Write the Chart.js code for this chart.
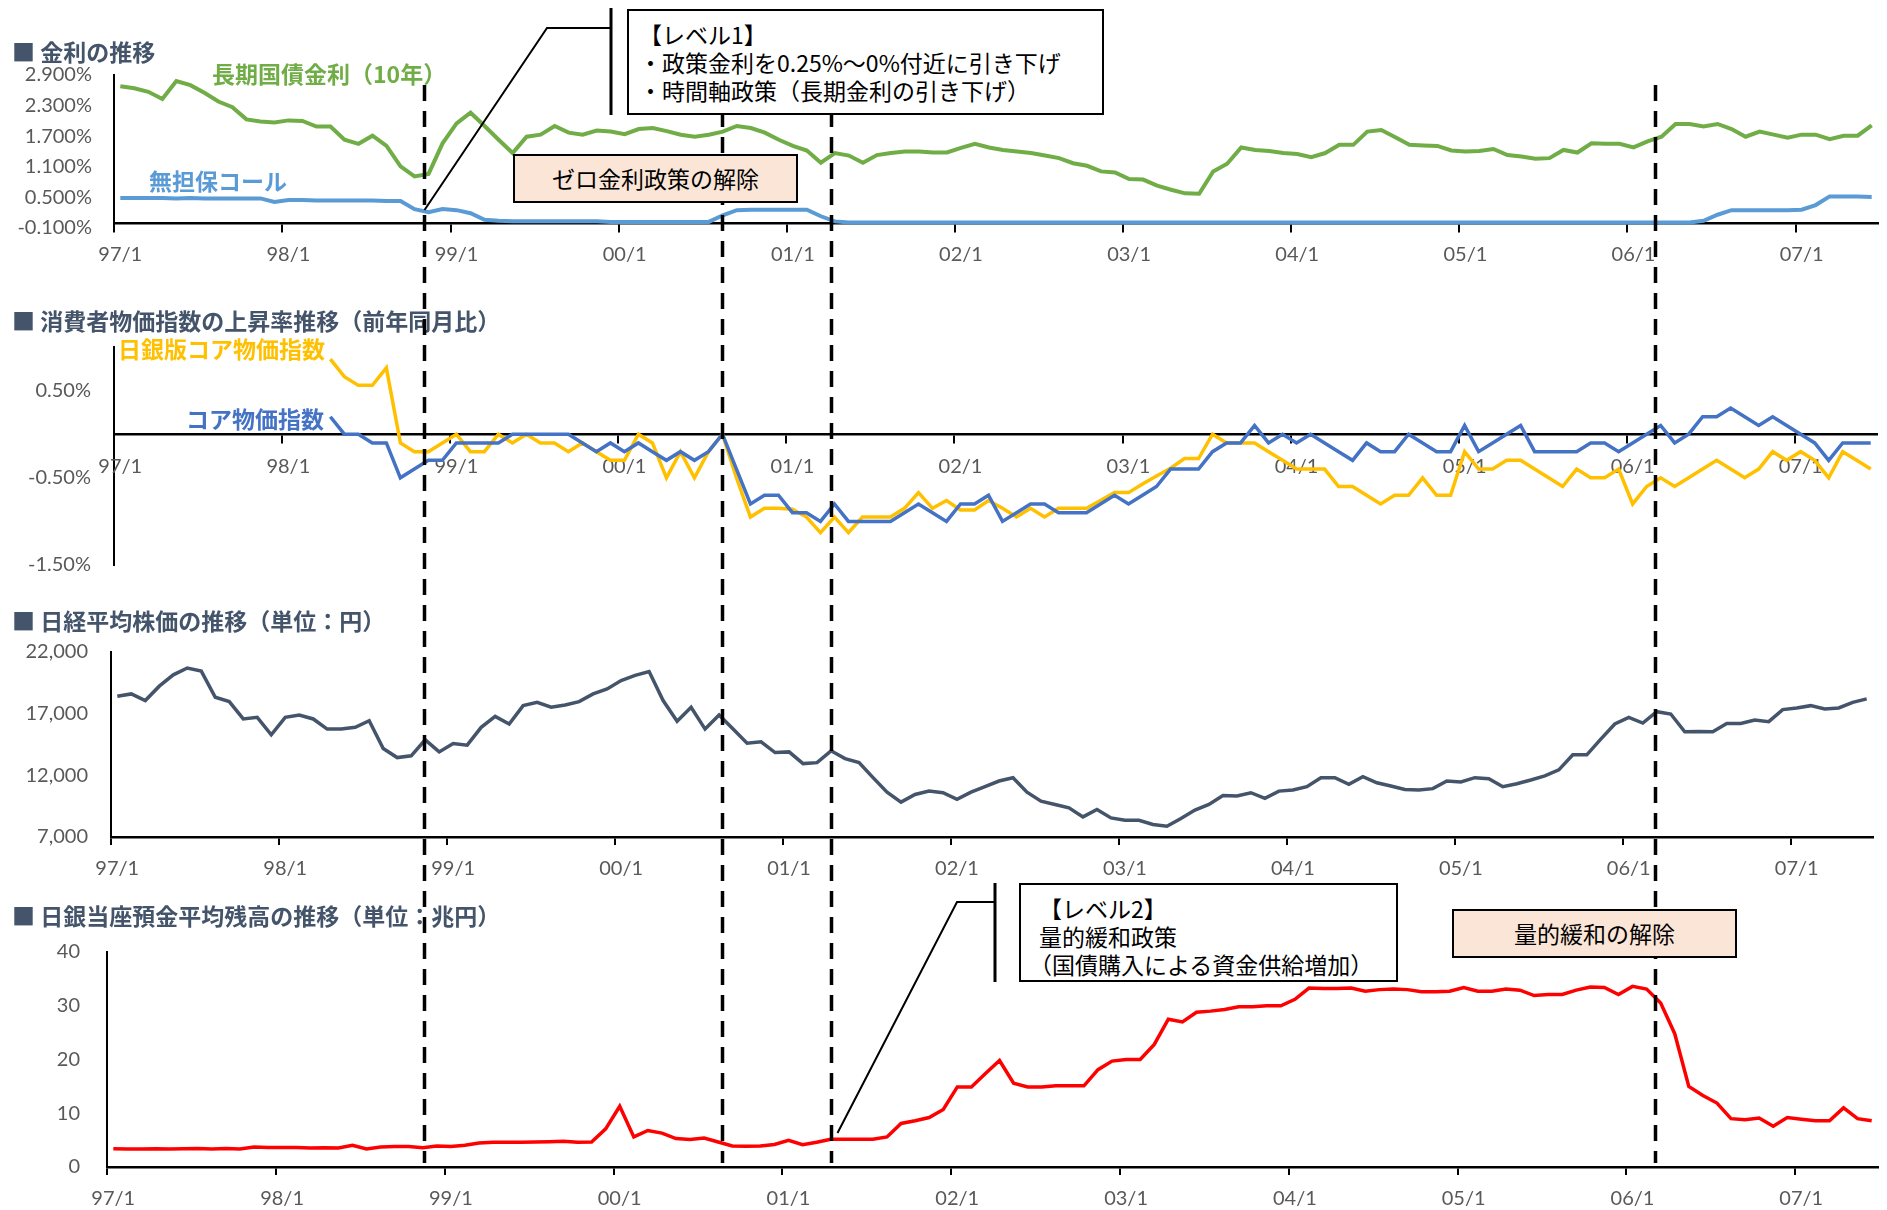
<!DOCTYPE html>
<html lang="ja">
<head>
<meta charset="utf-8">
<title>金利・物価・株価・当座預金の推移</title>
<script src="https://cdn.jsdelivr.net/npm/chart.js@4.4.1/dist/chart.umd.min.js"></script>
<style>
  body { margin: 0; background: #fff; }
  #wrap { position: relative; width: 1887px; height: 1210px; overflow: hidden; font-family: "Noto Sans CJK JP", "Noto Sans", sans-serif; }
  #wrap canvas { position: absolute; left: 0; }
  .title { position: absolute; left: 12px; font-size: 23px; font-weight: bold; color: #44546A; line-height: 1; white-space: nowrap; }
  .tag { position: absolute; font-size: 23px; font-weight: bold; line-height: 1; white-space: nowrap; }
  .note { position: absolute; box-sizing: border-box; border: 2px solid #000; background: #fff; font-size: 23px; color: #000; line-height: 28px; white-space: nowrap; }
  .peach { background: #FBE5D6; text-align: center; line-height: 45px; }
</style>
</head>
<body>
<div id="wrap">
  <canvas id="c1" width="1887" height="300" style="top:0"></canvas>
  <canvas id="c2" width="1887" height="300" style="top:300px"></canvas>
  <canvas id="c3" width="1887" height="300" style="top:600px"></canvas>
  <canvas id="c4" width="1887" height="310" style="top:900px"></canvas>

  <div class="title" style="top:40px">■ 金利の推移</div>
  <div class="title" style="top:309px">■ 消費者物価指数の上昇率推移（前年同月比）</div>
  <div class="title" style="top:609px">■ 日経平均株価の推移（単位：円）</div>
  <div class="title" style="top:904px">■ 日銀当座預金平均残高の推移（単位：兆円）</div>

  <div class="tag" style="left:212px;top:62px;color:#70AD47">長期国債金利（10年）</div>
  <div class="tag" style="left:149px;top:169px;color:#5B9BD5">無担保コール</div>
  <div class="tag" style="left:118px;top:337px;color:#FFC000">日銀版コア物価指数</div>
  <div class="tag" style="left:186px;top:407px;color:#4472C4">コア物価指数</div>

  <canvas id="overlay" width="1887" height="1210" style="top:0"></canvas>

  <div class="note" style="left:627px;top:9px;width:477px;height:106px;padding:9px 0 0 10px">【レベル1】<br>・政策金利を0.25%～0%付近に引き下げ<br>・時間軸政策（長期金利の引き下げ）</div>
  <div class="note peach" style="left:513px;top:154px;width:285px;height:49px">ゼロ金利政策の解除</div>
  <div class="note" style="left:1019px;top:883px;width:379px;height:99px;padding:9px 0 0 18px">【レベル2】<br>量的緩和政策<br><span style="margin-left:-10px">（国債購入による資金供給増加）</span></div>
  <div class="note peach" style="left:1452px;top:909px;width:285px;height:49px">量的緩和の解除</div>
</div>
<script>
// monthly data, 97/1 .. 07/6
const xTickLabels = ['97/1', '98/1', '99/1', '00/1', '01/1', '02/1', '03/1', '04/1', '05/1', '06/1', '07/1'];

const jgb10y = [
  2.68, 2.64, 2.57, 2.43, 2.78, 2.70, 2.55, 2.38, 2.27, 2.03, 1.99, 1.97,
  2.01, 2.00, 1.89, 1.89, 1.63, 1.55, 1.71, 1.51, 1.11, 0.91, 0.96, 1.56,
  1.95, 2.16, 1.90, 1.63, 1.37, 1.69, 1.73, 1.90, 1.77, 1.73, 1.81, 1.79,
  1.74, 1.84, 1.86, 1.80, 1.73, 1.69, 1.73, 1.79, 1.90, 1.86, 1.77, 1.63,
  1.51, 1.42, 1.18, 1.37, 1.32, 1.18, 1.33, 1.37, 1.40, 1.40, 1.38, 1.38,
  1.47, 1.55, 1.48, 1.43, 1.40, 1.37, 1.32, 1.27, 1.17, 1.12, 1.01, 0.99,
  0.86, 0.85, 0.73, 0.65, 0.58, 0.57, 1.01, 1.16, 1.48, 1.43, 1.41, 1.37,
  1.35, 1.29, 1.37, 1.53, 1.53, 1.79, 1.82, 1.68, 1.53, 1.52, 1.51, 1.42,
  1.40, 1.41, 1.45, 1.33, 1.30, 1.26, 1.27, 1.43, 1.38, 1.56, 1.55, 1.55,
  1.48, 1.60, 1.69, 1.94, 1.94, 1.89, 1.94, 1.84, 1.69, 1.79, 1.73, 1.67,
  1.73, 1.73, 1.64, 1.71, 1.71, 1.91
];
const callRate = [
  0.49, 0.49, 0.49, 0.49, 0.48, 0.49, 0.48, 0.48, 0.48, 0.48, 0.48, 0.41,
  0.45, 0.45, 0.44, 0.44, 0.44, 0.44, 0.44, 0.43, 0.43, 0.27, 0.21, 0.27,
  0.25, 0.19, 0.06, 0.04, 0.03, 0.03, 0.03, 0.03, 0.03, 0.03, 0.03, 0.02,
  0.02, 0.02, 0.02, 0.02, 0.02, 0.02, 0.02, 0.15, 0.25, 0.26, 0.26, 0.26,
  0.26, 0.26, 0.13, 0.03, 0.01, 0.01, 0.01, 0.01, 0.01, 0.01, 0.01, 0.01,
  0.01, 0.01, 0.01, 0.01, 0.01, 0.01, 0.01, 0.01, 0.01, 0.01, 0.01, 0.01,
  0.01, 0.01, 0.01, 0.01, 0.01, 0.01, 0.01, 0.01, 0.01, 0.01, 0.01, 0.01,
  0.01, 0.01, 0.01, 0.01, 0.01, 0.01, 0.01, 0.01, 0.01, 0.01, 0.01, 0.01,
  0.01, 0.01, 0.01, 0.01, 0.01, 0.01, 0.01, 0.01, 0.01, 0.01, 0.01, 0.01,
  0.01, 0.01, 0.01, 0.01, 0.01, 0.04, 0.16, 0.25, 0.25, 0.25, 0.25, 0.25,
  0.26, 0.35, 0.52, 0.52, 0.52, 0.51
];
const coreCpi = [
  null, null, null, null, null, null, null, null, null, null, null, null,
  null, null, null, 0.2, 0, 0, -0.1, -0.1, -0.5, -0.4, -0.3, -0.3,
  -0.1, -0.1, -0.1, -0.1, 0, 0, 0, 0, 0, -0.1, -0.2, -0.1,
  -0.2, -0.1, -0.2, -0.3, -0.2, -0.3, -0.2, 0, -0.4, -0.8, -0.7, -0.7,
  -0.9, -0.9, -1.0, -0.8, -1.0, -1.0, -1.0, -1.0, -0.9, -0.8, -0.9, -1.0,
  -0.8, -0.8, -0.7, -1.0, -0.9, -0.8, -0.8, -0.9, -0.9, -0.9, -0.8, -0.7,
  -0.8, -0.7, -0.6, -0.4, -0.4, -0.4, -0.2, -0.1, -0.1, 0.1, -0.1, 0,
  -0.1, 0, -0.1, -0.2, -0.3, -0.1, -0.2, -0.2, 0, -0.1, -0.2, -0.2,
  0.1, -0.2, -0.1, 0, 0.1, -0.2, -0.2, -0.2, -0.2, -0.1, -0.1, -0.2,
  -0.1, 0, 0.1, -0.1, 0, 0.2, 0.2, 0.3, 0.2, 0.1, 0.2, 0.1,
  0, -0.1, -0.3, -0.1, -0.1, -0.1
];
const bojCoreCpi = [
  null, null, null, null, null, null, null, null, null, null, null, null,
  null, null, null, 0.86, 0.66, 0.56, 0.56, 0.76, -0.1, -0.2, -0.2, -0.1,
  0, -0.2, -0.2, 0, -0.1, 0, -0.1, -0.1, -0.2, -0.1, -0.2, -0.3,
  -0.3, 0, -0.1, -0.5, -0.2, -0.5, -0.2, 0, -0.5, -0.95, -0.85, -0.85,
  -0.86, -0.95, -1.13, -0.95, -1.13, -0.95, -0.95, -0.95, -0.85, -0.67, -0.85, -0.76,
  -0.87, -0.87, -0.76, -0.85, -0.95, -0.85, -0.95, -0.85, -0.85, -0.85, -0.76, -0.67,
  -0.67, -0.57, -0.48, -0.39, -0.28, -0.28, 0, -0.1, -0.1, -0.1, -0.2, -0.3,
  -0.4, -0.4, -0.4, -0.6, -0.6, -0.7, -0.8, -0.7, -0.7, -0.5, -0.7, -0.7,
  -0.2, -0.4, -0.4, -0.3, -0.3, -0.4, -0.5, -0.6, -0.4, -0.5, -0.5, -0.4,
  -0.8, -0.6, -0.5, -0.6, -0.5, -0.4, -0.3, -0.4, -0.5, -0.4, -0.2, -0.3,
  -0.2, -0.3, -0.5, -0.2, -0.3, -0.4
];
const nikkei = [
  18410, 18600, 18060, 19230, 20150, 20700, 20450, 18330, 17980, 16570, 16700, 15290,
  16700, 16890, 16570, 15750, 15750, 15890, 16430, 14180, 13440, 13580, 14880, 13900,
  14580, 14450, 15890, 16780, 16160, 17650, 17920, 17520, 17710, 17980, 18600, 19010,
  19690, 20100, 20420, 18060, 16380, 17520, 15750, 16890, 15750, 14610, 14720, 13850,
  13900, 12950, 13030, 13990, 13360, 13030, 11810, 10640, 9830, 10450, 10720, 10590,
  10050, 10640, 11080, 11540, 11810, 10640, 9910, 9640, 9370, 8630, 9230, 8550,
  8360, 8360, 8010, 7870, 8500, 9180, 9640, 10370, 10320, 10590, 10130, 10720,
  10810, 11080, 11810, 11810, 11270, 11890, 11400, 11130, 10860, 10810, 10920, 11540,
  11460, 11810, 11730, 11080, 11320, 11620, 11950, 12440, 13660, 13660, 14940, 16160,
  16700, 16240, 17160, 16970, 15530, 15560, 15530, 16210, 16210, 16490, 16350, 17330,
  17460, 17650, 17380, 17460, 17920, 18200
];
const bojBalance = [
  3.4, 3.35, 3.35, 3.4, 3.35, 3.4, 3.45, 3.35, 3.45, 3.35, 3.7, 3.65,
  3.65, 3.65, 3.55, 3.6, 3.55, 4.05, 3.35, 3.7, 3.8, 3.8, 3.6, 3.9,
  3.8, 4.05, 4.45, 4.6, 4.6, 4.6, 4.65, 4.7, 4.8, 4.6, 4.65, 7.1,
  11.3, 5.6, 6.8, 6.3, 5.3, 5.1, 5.4, 4.65, 3.9, 3.85, 3.9, 4.2,
  4.95, 4.15, 4.6, 5.15, 5.15, 5.15, 5.15, 5.6, 8.1, 8.6, 9.2, 10.7,
  14.9, 14.9, 17.4, 19.8, 15.6, 14.9, 14.9, 15.1, 15.1, 15.1, 18.1, 19.7,
  20.0, 20.0, 22.8, 27.5, 27.0, 28.8, 29.0, 29.3, 29.8, 29.8, 30.0, 30.0,
  31.2, 33.3, 33.2, 33.2, 33.3, 32.7, 33.0, 33.1, 33.0, 32.6, 32.6, 32.7,
  33.4, 32.7, 32.7, 33.1, 32.9, 31.9, 32.1, 32.1, 32.9, 33.5, 33.4, 32.1,
  33.6, 33.1, 30.5, 24.8, 15.0, 13.3, 11.9, 9.0, 8.8, 9.1, 7.6, 9.2,
  8.9, 8.6, 8.6, 11.0, 9.0, 8.6
];

const rateTicks = [-0.1, 0.5, 1.1, 1.7, 2.3, 2.9];
const cpiTicks = [-1.5, -0.5, 0.5];
const nikkeiTicks = [7000, 12000, 17000, 22000];
const balanceTicks = [0, 10, 20, 30, 40];

// policy changes, in months from 97/1
const policyMonths = [21.7, 42.95, 50.7, 109.55];

const toPoints = vals => vals.map((v, i) => ({x: i, y: v}));

function panel(id, cfg) {
    const ctx = document.getElementById(id);
    const tickFont = {family: 'Lato', size: 20};
    return new Chart(ctx, {
        type: 'line',
        data: {
            datasets: cfg.series.map(s => ({
                data: toPoints(s.data),
                borderColor: s.color,
                borderWidth: s.width,
                pointRadius: 0,
                tension: 0,
                fill: false
            }))
        },
        options: {
            responsive: false,
            animation: false,
            events: [],
            layout: {padding: {top: cfg.top, bottom: cfg.bottom, left: 0, right: cfg.right}},
            plugins: {legend: {display: false}, tooltip: {enabled: false}},
            scales: {
                y: {
                    min: cfg.min, max: cfg.max,
                    afterBuildTicks: s => { s.ticks = cfg.ticks.map(v => ({value: v})); },
                    afterFit: s => { s.width = cfg.left; },
                    grid: {display: false, drawTicks: false},
                    border: {display: true, color: '#000', width: 2},
                    ticks: {padding: cfg.pad, color: '#595959', font: tickFont, callback: cfg.fmt}
                },
                x: {
                    type: 'linear', min: -0.45, max: 125.45,
                    position: cfg.xAtZero ? {y: 0} : 'bottom',
                    afterBuildTicks: s => { s.ticks = xTickLabels.map((_, k) => ({value: 12 * k - 0.43})); },
                    afterFit: s => { if (!cfg.xAtZero) s.height = cfg.xHeight; },
                    grid: {drawOnChartArea: false, drawTicks: true, tickLength: 8, color: '#000', lineWidth: 2},
                    border: {display: true, color: '#000', width: 2.5},
                    ticks: {
                        autoSkip: false, maxRotation: 0, padding: 12, labelOffset: 6,
                        color: '#595959', font: tickFont,
                        callback: (v, i) => xTickLabels[i]
                    }
                }
            }
        }
    });
}

const rateChart = panel('c1', {
    series: [{data: jgb10y, color: '#70AD47', width: 4}, {data: callRate, color: '#5B9BD5', width: 4}],
    min: -0.1, max: 2.9, ticks: rateTicks, fmt: v => v.toFixed(3) + '%',
    top: 75, bottom: 72, right: 9, left: 114, pad: 22, xAtZero: true
});
panel('c2', {
    series: [{data: coreCpi, color: '#4472C4', width: 3.5}, {data: bojCoreCpi, color: '#FFC000', width: 3.5}],
    min: -1.5, max: 1.0, ticks: cpiTicks, fmt: v => v.toFixed(2) + '%',
    top: 47, bottom: 25, right: 10, left: 114, pad: 23, xAtZero: true
});
panel('c3', {
    series: [{data: nikkei, color: '#44546A', width: 3.5}],
    min: 7000, max: 22000, ticks: nikkeiTicks, fmt: v => v.toLocaleString('en-US'),
    top: 52, bottom: 0, right: 14, left: 111, pad: 23, xHeight: 63
});
panel('c4', {
    series: [{data: bojBalance, color: '#FF0000', width: 3.5}],
    min: 0, max: 40, ticks: balanceTicks, fmt: v => String(v),
    top: 52, bottom: 0, right: 9, left: 107, pad: 27, xHeight: 43
});

// dashed policy lines and callout connectors
const ov = document.getElementById('overlay').getContext('2d');
const xs = policyMonths.map(m => Math.round(rateChart.scales.x.getPixelForValue(m)) + 0.5);
ov.strokeStyle = '#000';
ov.lineWidth = 3.5;
ov.setLineDash([16, 10]);
xs.forEach(x => {
    ov.beginPath();
    ov.moveTo(x, 85);
    ov.lineTo(x, 1163);
    ov.stroke();
});

ov.setLineDash([]);
ov.lineWidth = 2;
ov.beginPath();
ov.moveTo(xs[0], 210);
ov.lineTo(547, 28);
ov.lineTo(611, 28);
ov.stroke();
ov.beginPath();
ov.moveTo(xs[2] + 6, 1133);
ov.lineTo(957, 902);
ov.lineTo(995, 902);
ov.stroke();

ov.lineWidth = 3;
ov.beginPath();
ov.moveTo(611, 8);
ov.lineTo(611, 115);
ov.moveTo(995, 883);
ov.lineTo(995, 982);
ov.stroke();
</script>
</body>
</html>
